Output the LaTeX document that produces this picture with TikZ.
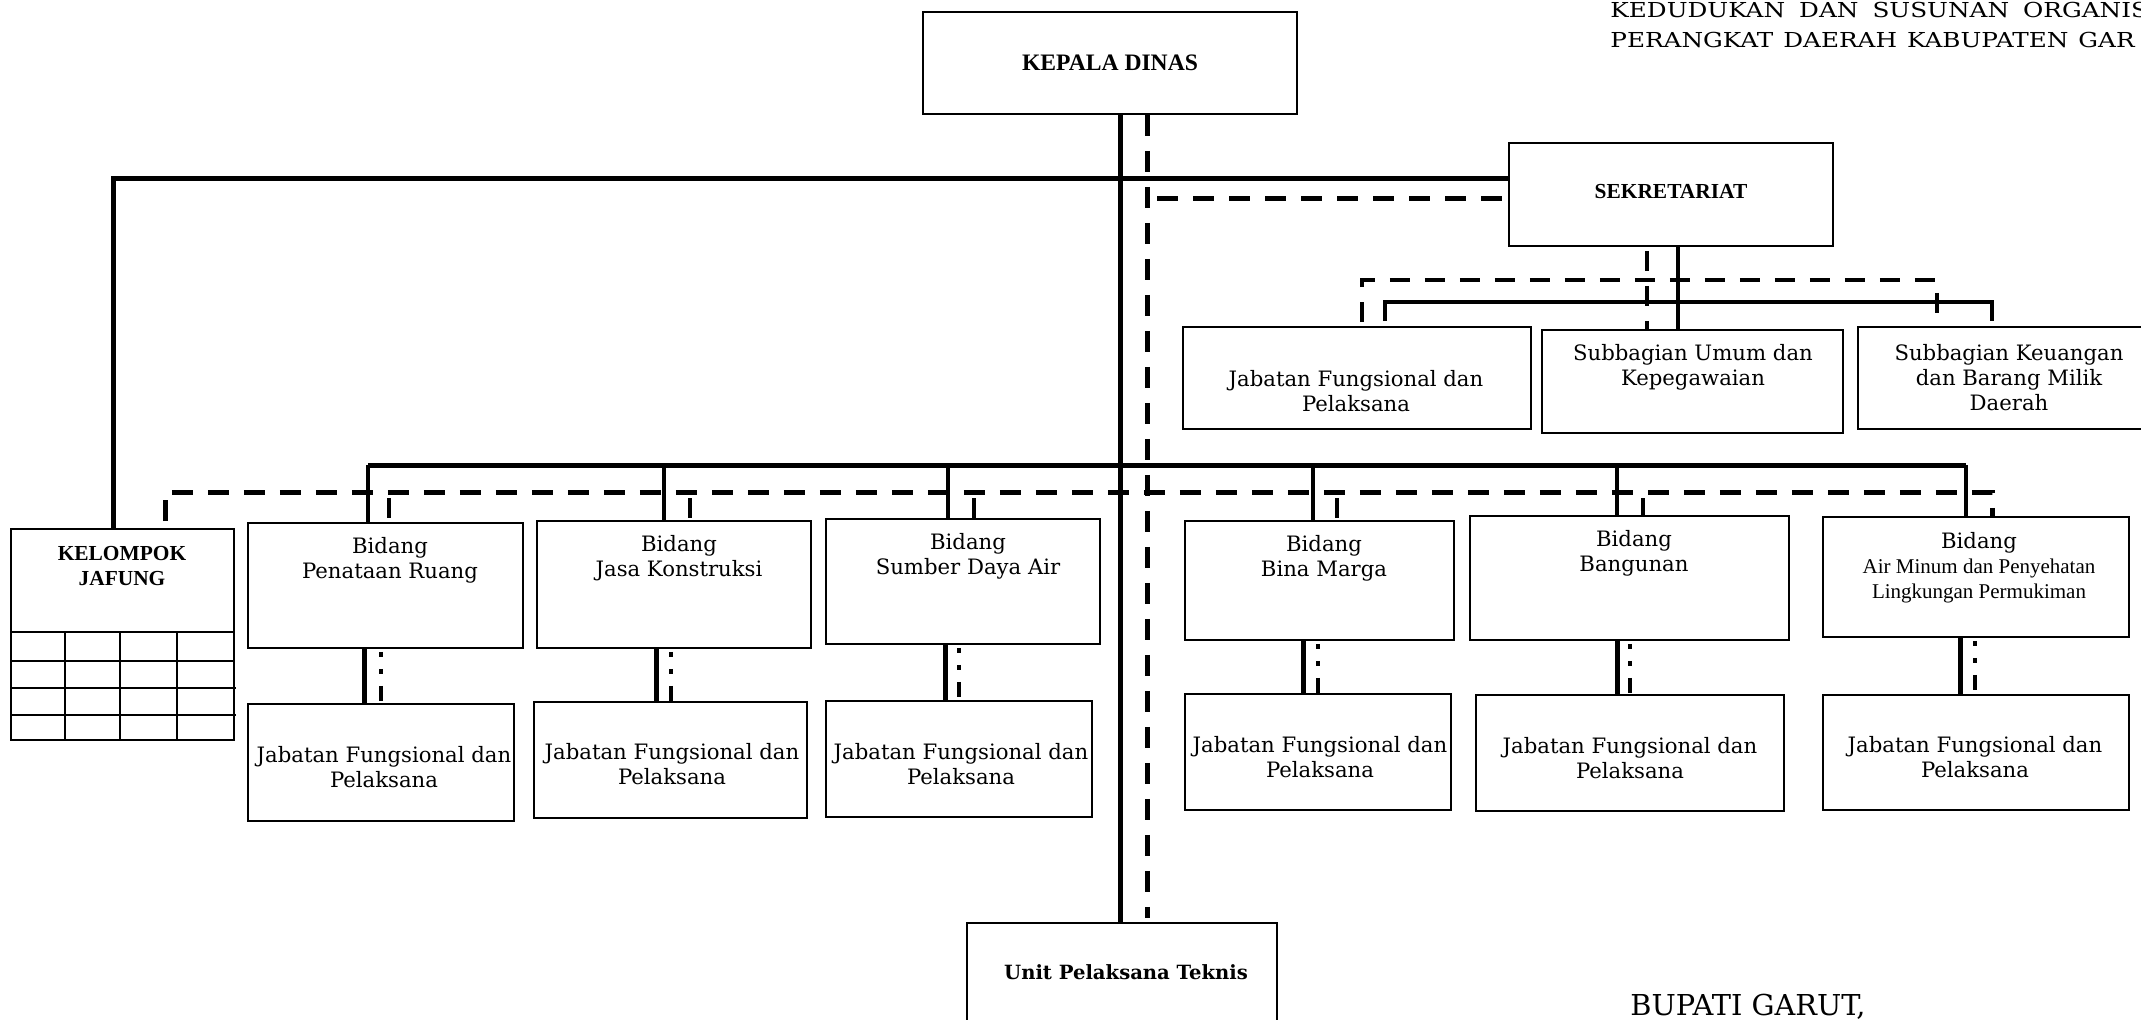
\documentclass[tikz,border=0pt]{standalone}
\usepackage{fontspec}
\setmainfont{DejaVu Serif}
\newfontfamily\timesfont{Liberation Serif}
\newfontfamily\headfont{DejaVu Serif}[FakeStretch=1.2]
\usetikzlibrary{fit}
\newcommand{\smalltimes}{\timesfont\fontsize{10.5}{12}\selectfont}

\begin{document}
\begin{tikzpicture}[x=0.5pt,y=-0.5pt,
  box/.style={draw, line width=0.9pt, inner sep=0pt},
  body/.style={font=\fontsize{10.6}{12.5}\selectfont, align=center, inner sep=0pt},
  boldtimes/.style={font=\timesfont\bfseries\fontsize{10.7}{12.5}\selectfont, align=center, inner sep=0pt},
  solidline/.style={line width=2.5pt},
  midline/.style={line width=2.2pt},
  dashline/.style={line width=2.5pt, dash pattern=on 10.5pt off 7.5pt},
  middash/.style={line width=2.2pt, dash pattern=on 10pt off 7.5pt},
  dotline/.style={line width=2.2pt, dash pattern=on 0pt off 1.5pt on 2.5pt off 6pt on 2.5pt off 6pt on 7.5pt off 20pt},
  gridline/.style={line width=0.8pt},
]
\useasboundingbox (0,0) rectangle (2141,1019);
\clip (0,0) rectangle (2141,1019);
\fill[white] (0,0) rectangle (2141,1019);

% ---------- heading ----------
\node[anchor=base west, inner sep=0pt, font=\headfont\fontsize{10.3}{12}\selectfont] (hd1) at (1610,17)
  {KEDUDUKAN\hspace{7pt}DAN\hspace{7pt}SUSUNAN\hspace{7pt}ORGANIS};
\node[anchor=base west, inner sep=0pt, font=\headfont\fontsize{10.3}{12}\selectfont] (hd2) at (1610,47)
  {PERANGKAT\hspace{5pt}DAERAH\hspace{5pt}KABUPATEN\hspace{5pt}GAR};
\node[anchor=base west, inner sep=0pt, font=\fontsize{14.4}{16}\selectfont] (bup) at (1630,1015) {BUPATI GARUT,};

% ---------- boxes ----------
\node[box, fit={(923,12) (1297,114)}] (kd) {};
\node[boldtimes, font=\timesfont\bfseries\fontsize{11.8}{13}\selectfont] (kdt) at (1110,63) {KEPALA DINAS};

\node[box, fit={(1509,143) (1833,246)}] (sek) {};
\node[boldtimes] (sekt) at (1671,192) {SEKRETARIAT};

\node[box, fit={(1183,327) (1531,429)}] (sjf) {};
\node[body] (sjft) at (1356,391) {Jabatan Fungsional dan\\Pelaksana};
\node[box, fit={(1542,330) (1843,433)}] (sum) {};
\node[body] (sumt) at (1693,367) {Subbagian Umum dan\\Kepegawaian};
\node[box, fit={(1858,327) (2165,429)}] (skeu) {};
\node[body] (skeut) at (2009,378) {Subbagian Keuangan\\dan Barang Milik\\Daerah};

% Kelompok Jafung with its table
\node[box, fit={(11,529) (234,740)}] (klp) {};
\node[boldtimes] (klpt) at (122,566) {KELOMPOK\\JAFUNG};
\draw[gridline] (11,632) -- (234,632);
\draw[gridline] (11,661) -- (234,661);
\draw[gridline] (11,688) -- (236,688);
\draw[gridline] (11,715) -- (236,715);
\foreach \gx in {65,120,177} \draw[gridline] (\gx,632) -- (\gx,740);

% Bidang row
\node[box, fit={(248,523) (523,648)}] (pr) {};
\node[body] (prt) at (390,560) {Bidang\\Penataan Ruang};
\node[box, fit={(537,521) (811,648)}] (jk) {};
\node[body] (jkt) at (679,558) {Bidang\\Jasa Konstruksi};
\node[box, fit={(826,519) (1100,644)}] (sda) {};
\node[body] (sdat) at (968,556) {Bidang\\Sumber Daya Air};
\node[box, fit={(1185,521) (1454,640)}] (bm) {};
\node[body] (bmt) at (1324,558) {Bidang\\Bina Marga};
\node[box, fit={(1470,516) (1789,640)}] (bg) {};
\node[body] (bgt) at (1634,553) {Bidang\\Bangunan};
\node[box, fit={(1823,517) (2129,637)}] (am) {};
\node[body] (amt) at (1979,568) {Bidang\\{\smalltimes Air Minum dan Penyehatan}\\{\smalltimes Lingkungan Permukiman}};

% Jabatan Fungsional row
\node[box, fit={(248,704) (514,821)}] (j1) {};
\node[body] (j1t) at (384,767) {Jabatan Fungsional dan\\Pelaksana};
\node[box, fit={(534,702) (807,818)}] (j2) {};
\node[body] (j2t) at (672,764) {Jabatan Fungsional dan\\Pelaksana};
\node[box, fit={(826,701) (1092,817)}] (j3) {};
\node[body] (j3t) at (961,764) {Jabatan Fungsional dan\\Pelaksana};
\node[box, fit={(1185,694) (1451,810)}] (j4) {};
\node[body] (j4t) at (1320,757) {Jabatan Fungsional dan\\Pelaksana};
\node[box, fit={(1476,695) (1784,811)}] (j5) {};
\node[body] (j5t) at (1630,758) {Jabatan Fungsional dan\\Pelaksana};
\node[box, fit={(1823,695) (2129,810)}] (j6) {};
\node[body] (j6t) at (1975,757) {Jabatan Fungsional dan\\Pelaksana};

\node[box, fit={(967,923) (1277,1030)}] (upt) {};
\node[inner sep=0pt, font=\bfseries\fontsize{9.8}{12}\selectfont] (uptt) at (1126,972) {Unit Pelaksana Teknis};

% ---------- reference points ----------
\coordinate (xT) at (1120,0);   \coordinate (xTd) at (1147,0);
\coordinate (xK) at (113,0);    \coordinate (xKd) at (165,0);
\coordinate (xA) at (1992,0);
\coordinate (ys) at (0,178);    \coordinate (yd) at (0,198);
\coordinate (ybd) at (0,492);
\coordinate (yd0) at (1157,198);
\coordinate (xS) at (1678,0);   \coordinate (xSd) at (1647,0);
\coordinate (xa) at (1385,0);   \coordinate (xb) at (1992,0);
\coordinate (xc) at (1362,0);   \coordinate (xd) at (1937,0);
\coordinate (ysb) at (0,302);   \coordinate (ysd) at (0,280);

% ---------- trunk ----------
\draw[solidline] (kd.south -| xT) -- (upt.north -| xT);
\draw[dashline] (kd.south -| xTd) -- ([yshift=2pt]upt.north -| xTd);

% head to secretariat and to the functional group
\draw[solidline] (sek.west |- ys) -- (ys -| xK) -- (klp.north -| xK);
\draw[dashline] (yd0) -- (sek.west |- yd);

% ---------- secretariat branch ----------
\draw[midline] (sek.south -| xS) -- (sum.north -| xS);
\draw[middash] ([yshift=-2pt]sek.south -| xSd) -- (sum.north -| xSd);
\draw[midline] ([yshift=2.5pt]sjf.north -| xa) -- (xa |- ysb) -- (xb |- ysb) -- ([yshift=2.5pt]skeu.north -| xb);
\draw[middash] ([yshift=2pt]sjf.north -| xc) -- (xc |- ysd) -- (xd |- ysd) -- ([yshift=2pt]skeu.north -| xd);

% ---------- bidang bus ----------
\coordinate (s1) at (368,465);
\coordinate (s2) at (664,465);
\coordinate (s3) at (948,465);
\coordinate (s4) at (1313,465);
\coordinate (s5) at (1617,465);
\coordinate (s6) at (1966,465);
\draw[solidline] (s1) -- (s6);
\foreach \s/\b in {s1/pr, s2/jk, s3/sda, s4/bm, s5/bg, s6/am}
  \draw[midline] (\s) -- (\s |- \b.north);

\draw[dashline] ([yshift=3.5pt]klp.north -| xKd) -- (xKd |- ybd) -- (xA |- ybd) -- (am.north -| xA);
\coordinate (d1) at (389,498);
\coordinate (d2) at (690,498);
\coordinate (d3) at (974,498);
\coordinate (d4) at (1337,498);
\coordinate (d5) at (1643,498);
\foreach \d/\b in {d1/pr, d2/jk, d3/sda, d4/bm, d5/bg}
  \draw[middash] (\d) -- (\d |- \b.north);

% ---------- bidang to functional staff ----------
\coordinate (v1) at (364,0);  \coordinate (w1) at (381,0);
\coordinate (v2) at (656,0);  \coordinate (w2) at (671,0);
\coordinate (v3) at (945,0);  \coordinate (w3) at (959,0);
\coordinate (v4) at (1303,0); \coordinate (w4) at (1318,0);
\coordinate (v5) at (1617,0); \coordinate (w5) at (1630,0);
\coordinate (v6) at (1960,0); \coordinate (w6) at (1975,0);
\foreach \v/\w/\a/\b in {v1/w1/pr/j1, v2/w2/jk/j2, v3/w3/sda/j3, v4/w4/bm/j4, v5/w5/bg/j5, v6/w6/am/j6}{
  \draw[solidline] (\a.south -| \v) -- (\b.north -| \v);
  \draw[dotline] (\a.south -| \w) -- (\b.north -| \w);
}
\end{tikzpicture}
\end{document}
